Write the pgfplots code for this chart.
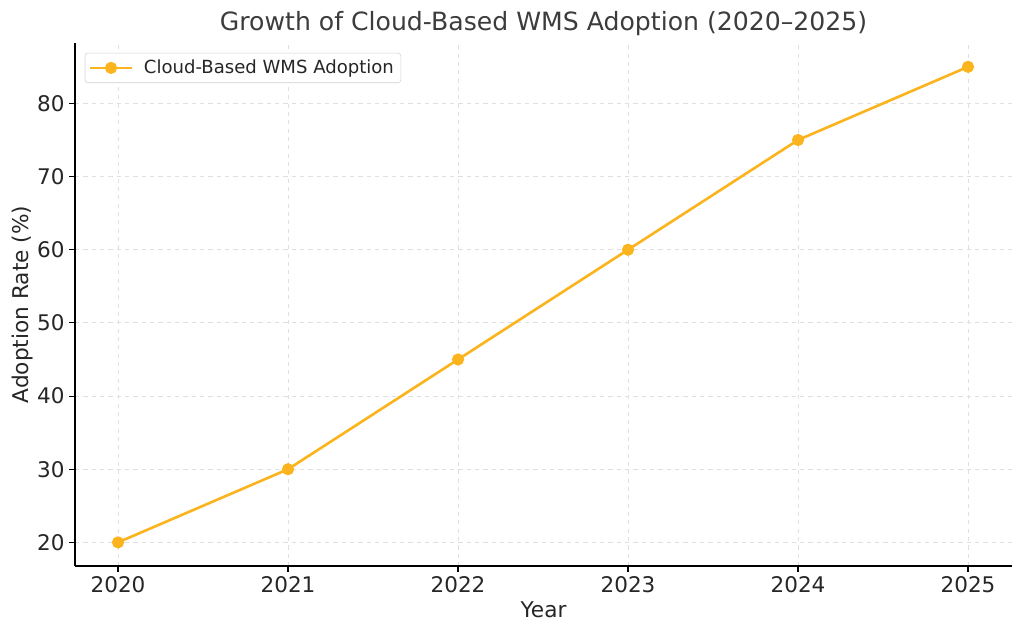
\documentclass[border=0pt]{standalone}
\usepackage{fontspec}
\setmainfont{DejaVu Sans}
\usepackage{pgfplots}
\pgfplotsset{compat=1.18}
\definecolor{cloudline}{RGB}{251,180,30}
\definecolor{txt}{RGB}{38,38,38}
\begin{document}
\begin{tikzpicture}
    \begin{axis}[
            name=ax,
            scale only axis,
            width=674.6pt,
            height=376.6pt,
            xmin=2019.747, xmax=2025.259,
            ymin=16.75, ymax=88.25,
            axis x line*=bottom,
            axis y line*=left,
            axis line style={black, line width=1pt},
            xtick={2020,2021,2022,2023,2024,2025},
            ytick={20,30,40,50,60,70,80},
            x tick label style={/pgf/number format/1000 sep={}},
            tick style={black, line width=0.8pt},
            tick align=outside,
            major tick length=4pt,
            ticklabel style={font=\fontsize{15.5}{17}\selectfont, text=txt},
            /pgf/number format/assume math mode=true,
            xmajorgrids=true, ymajorgrids=true,
            grid style={gray!25, dashed, line width=0.6pt},
            xlabel={Year},
            ylabel={Adoption Rate (\%)},
            label style={font=\fontsize{15.6}{17}\selectfont, text=txt},
            xlabel style={at={(rel axis cs:0.5,0)}, anchor=center, yshift=-31.7pt},
            ylabel style={at={(rel axis cs:0,0.5)}, anchor=center, yshift=38pt},
            title={Growth of Cloud-Based WMS Adoption (2020–2025)},
            title style={font=\fontsize{18.1}{20}\selectfont, text=txt!90, at={(rel axis cs:0.5,1)}, anchor=center, yshift=8pt},
            legend style={at={(0,1)}, anchor=north west, xshift=7pt, yshift=-7pt,
                draw=gray!35, rounded corners=2pt, font=\fontsize{13}{15}\selectfont, text=txt,
                inner xsep=3pt, inner ysep=3pt},
            legend image code/.code={\draw[#1, mark repeat=2, mark phase=2] plot coordinates {(0cm,0cm) (0.52cm,0cm) (1.04cm,0cm)}; \path (1.25cm,0cm);},
            legend cell align=left,
            clip=false
        ]
        \addplot[color=cloudline, line width=1.9pt, mark=*, mark size=3.4pt,
            mark options={fill=cloudline, draw=cloudline}] coordinates {
                (2020,20) (2021,30) (2022,45) (2023,60) (2024,75) (2025,85)
            };
        \addlegendentry{Cloud-Based WMS Adoption}
    \end{axis}
    \path ([xshift=-54pt,yshift=-49.7pt]ax.south west) rectangle ([xshift=8.6pt,yshift=31pt]ax.north east);
\end{tikzpicture}
\end{document}
